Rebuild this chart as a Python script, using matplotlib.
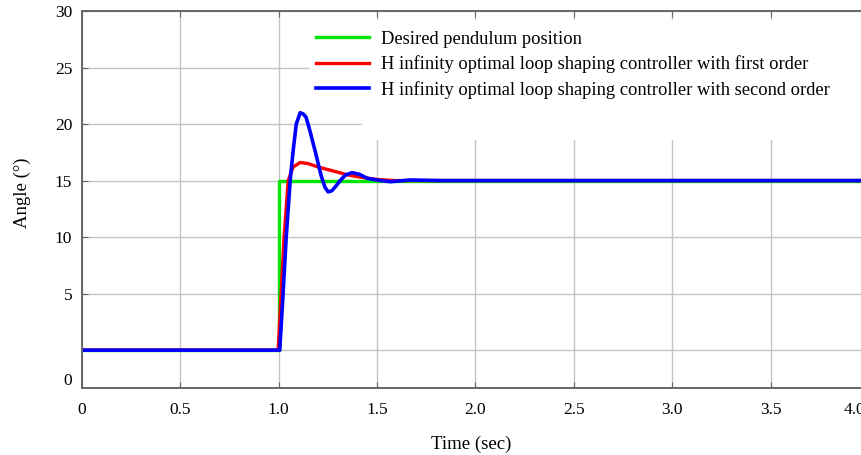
import numpy as np
import matplotlib.pyplot as plt
from matplotlib.patches import Rectangle
from matplotlib.transforms import ScaledTranslation

plt.rcParams["font.family"] = ["Liberation Serif", "DejaVu Serif"]

# desired pendulum position (step at t = 1 s)
t_ref = [0, 1.0, 1.0, 4.0]
y_ref = [0, 0, 15, 15]

# H infinity loop shaping, first order weight
t_first = [0, 0.997, 1.012, 1.027, 1.048, 1.073, 1.109, 1.15, 1.20, 1.287,
           1.35, 1.414, 1.50, 1.59, 1.70, 4.0]
y_first = [0, 0, 5, 10, 15, 16.2, 16.6, 16.5, 16.2, 15.8,
           15.5, 15.3, 15.1, 15.0, 15.0, 15.0]

# H infinity loop shaping, second order weight
t_second = [0, 1.005, 1.022, 1.038, 1.058, 1.073, 1.089, 1.109, 1.124, 1.139,
            1.16, 1.185, 1.216, 1.235, 1.251, 1.27, 1.29, 1.312, 1.34, 1.373,
            1.41, 1.45, 1.516, 1.567, 1.668, 1.82, 4.0]
y_second = [0, 0, 5, 10, 15, 17.6, 20.0, 21.0, 20.9, 20.6,
            19.3, 17.6, 15.4, 14.4, 14.0, 14.1, 14.5, 15.0, 15.5, 15.7,
            15.55, 15.2, 15.0, 14.9, 15.05, 15.0, 15.0]

labels = ["Desired pendulum position",
          "H infinity optimal loop shaping controller with first order",
          "H infinity optimal loop shaping controller with second order"]

y_ticks = [0, 5, 10, 15, 20, 25, 30]
y_ticklabels = ["", "5", "10", "15", "20", "25", "30"]
x_ticks = [0, 0.5, 1.0, 1.5, 2.0, 2.5, 3.0, 3.5, 4.0]
x_ticklabels = ["0", "0.5", "1.0", "1.5", "2.0", "2.5", "3.0", "3.5", "4.0"]

fig = plt.figure(figsize=(8.61, 4.55), dpi=100)
ax = fig.add_axes([82 / 861, 67 / 455, 787 / 861, 377 / 455])

ax.plot(t_ref, y_ref, color="#00e600", lw=2.4, label=labels[0])
ax.plot(t_first, y_first, color="#ff0000", lw=2.4, label=labels[1])
ax.plot(t_second, y_second, color="#0000ff", lw=2.6, label=labels[2])

ax.set_xlim(0, 4.0)
ax.set_ylim(-3.35, 30)

ax.set_xticks(x_ticks)
ax.set_xticklabels(x_ticklabels)
ax.set_yticks(y_ticks)
ax.set_yticklabels(y_ticklabels)
# the "0" label sits below the lowest grid line in the original
ax.set_yticks([-2.55], minor=True)
ax.set_yticklabels(["0"], minor=True)
ax.tick_params(axis="y", which="minor", length=0, pad=7, labelsize=12.5)

ax.tick_params(axis="both", which="major", direction="in", length=4,
               color="#666666", labelsize=12.5, top=True, right=True)
ax.tick_params(axis="x", pad=10)
ax.tick_params(axis="y", pad=7)

# last x label is drawn a little left of its tick, as in the original
lab = ax.get_xticklabels()[-1]
lab.set_transform(lab.get_transform() + ScaledTranslation(-15 / 100, 0, fig.dpi_scale_trans))

ax.grid(True, which="major", color="#c4c4c4", lw=1.0)
ax.set_axisbelow(True)
for s in ax.spines.values():
    s.set_color("#666666")
    s.set_linewidth(1.4)

# white patch behind the legend hiding the grid
ax.add_patch(Rectangle((0.356, 0.658), 0.7, 0.318, transform=ax.transAxes,
                       facecolor="white", edgecolor="none", zorder=1))

ax.set_xlabel("Time (sec)", fontsize=13.5, labelpad=13, x=0.494)
ax.set_ylabel("Angle (°)", fontsize=13.5, labelpad=17, y=0.517)

ax.legend(loc="upper left", bbox_to_anchor=(310 / 861, 1 - 25 / 455),
          bbox_transform=fig.transFigure, fontsize=13.3, frameon=True,
          facecolor="white", edgecolor="none", framealpha=1,
          handlelength=2.9, handletextpad=0.65, labelspacing=0.42,
          borderpad=0.3, borderaxespad=0)

fig.savefig("out.png", dpi=100)
